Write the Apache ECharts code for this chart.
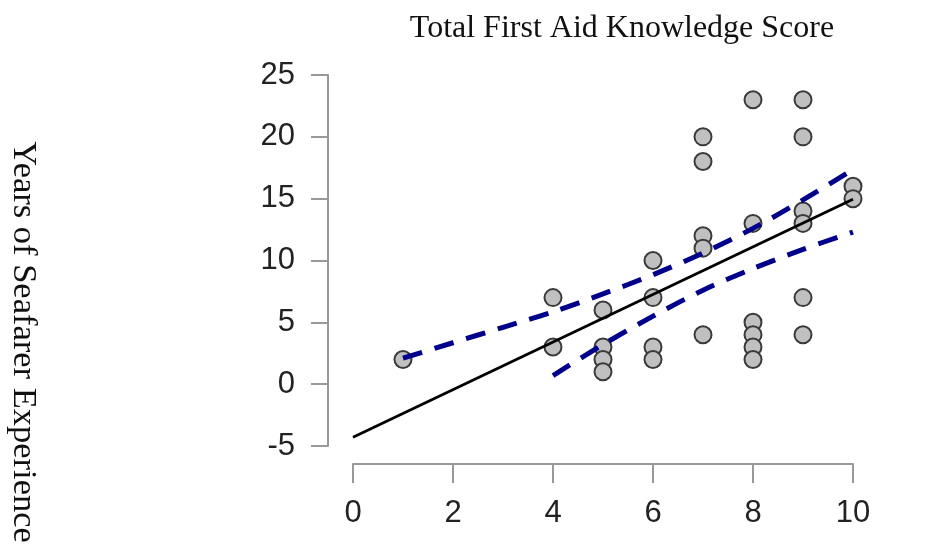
<!DOCTYPE html>
<html>
<head>
<meta charset="utf-8">
<script src="https://cdn.jsdelivr.net/npm/echarts@6/dist/echarts.min.js"></script>
<style>html,body{margin:0;padding:0;background:#fff;}#c{width:935px;height:550px;}</style>
</head>
<body>
<div id="c"></div>
<script>
// Scatter data: total first aid knowledge score (x) vs years of seafarer experience (y)
var scoreX = [1,4,4,5,5,5,5,6,6,6,6,7,7,7,7,7,8,8,8,8,8,8,9,9,9,9,9,9,10,10];
var yearsY = [2,7,3,6,3,2,1,10,7,3,2,20,18,12,11,4,23,13,5,4,3,2,23,20,14,13,7,4,16,15];
// Regression line
var fitX = [0, 10];
var fitY = [-4.3, 14.95];
// Confidence band (dashed)
var upperX = [1,2,3,4,5,6,7,8,9,10];
var upperY = [2.1,3.35,4.6,5.85,7.3,8.85,10.6,12.6,14.9,17.35];
var lowerX = [4,5,6,7,8,9,10];
var lowerY = [0.7,3.2,5.5,7.6,9.35,10.9,12.3];
var xTicks = [0,2,4,6,8,10];
var yTicks = [-5,0,5,10,15,20,25];

function pairs(a, b) { return a.map(function (v, i) { return [v, b[i]]; }); }

var chart = echarts.init(document.getElementById('c'), null, {renderer: 'canvas'});
var sansFont = '"Liberation Sans", Arial, sans-serif';
var serifFont = '"Liberation Serif", "Times New Roman", serif';
chart.setOption({
  animation: false,
  backgroundColor: '#ffffff',
  title: {
    text: 'Total First Aid Knowledge Score',
    left: 617, top: 8, textAlign: 'center',
    textStyle: {fontFamily: serifFont, fontSize: 32, fontWeight: 'normal', color: '#111'}
  },
  graphic: [{
    type: 'text', x: 23, y: 342, rotation: -Math.PI / 2,
    style: {text: 'Years of Seafarer Experience', font: '34.5px ' + serifFont, fill: '#111',
            textAlign: 'center', textVerticalAlign: 'middle'}
  }],
  grid: {left: 353, right: 82, top: 75, bottom: 104, containLabel: false},
  xAxis: {
    type: 'value', min: xTicks[0], max: xTicks[xTicks.length - 1], interval: 2,
    offset: 18,
    axisLine: {show: true, onZero: false, lineStyle: {color: '#999', width: 2}},
    axisTick: {show: true, length: 19, lineStyle: {color: '#999', width: 2}},
    axisLabel: {margin: 34, fontFamily: sansFont, fontSize: 31, color: '#222'},
    splitLine: {show: false}
  },
  yAxis: {
    type: 'value', min: yTicks[0], max: yTicks[yTicks.length - 1], interval: 5,
    offset: 25,
    axisLine: {show: true, onZero: false, lineStyle: {color: '#999', width: 2}},
    axisTick: {show: true, length: 17, lineStyle: {color: '#999', width: 2}},
    axisLabel: {margin: 33, fontFamily: sansFont, fontSize: 31, color: '#222'},
    splitLine: {show: false}
  },
  series: [
    {
      type: 'line', data: pairs(fitX, fitY), symbol: 'none', z: 3,
      lineStyle: {color: '#000', width: 2.8}
    },
    {
      type: 'line', data: pairs(upperX, upperY), symbol: 'none', smooth: 0.3, z: 4,
      lineStyle: {color: '#00008B', width: 5, type: [20, 13]}
    },
    {
      type: 'line', data: pairs(lowerX, lowerY), symbol: 'none', smooth: 0.3, z: 4,
      lineStyle: {color: '#00008B', width: 5, type: [20, 13]}
    },
    {
      type: 'scatter', data: pairs(scoreX, yearsY), symbol: 'circle', symbolSize: 17, z: 2,
      itemStyle: {color: '#c0c0c0', borderColor: '#3a3a3a', borderWidth: 2, opacity: 1}
    }
  ]
});
</script>
</body>
</html>
